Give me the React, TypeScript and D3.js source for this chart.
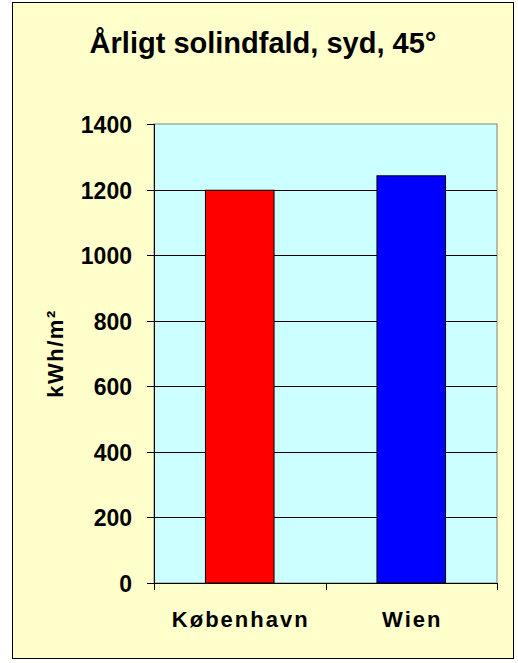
import React from "react";
import * as d3 from "d3";

const categories = ["København", "Wien"];
const values = [1198, 1242];
const barColors = ["#FF0000", "#0000FF"];
const yTicks = [0, 200, 400, 600, 800, 1000, 1200, 1400];
const title = "Årligt solindfald, syd, 45°";
const yLabel = "kWh/m²";

export default function App() {
  const W = 518, H = 663;
  const left = 154, right = 497, top = 124, bottom = 583;
  const x = d3.scaleBand<string>().domain(categories).range([left, right]).paddingInner(0.6).paddingOuter(0.3);
  const y = d3.scaleLinear().domain([0, 1400]).range([bottom, top]);
  const band = d3.scaleBand<string>().domain(categories).range([left, right]);
  const font = "'Liberation Sans', Arial, sans-serif";
  return (
    <svg width={W} height={H} style={{ position: "absolute", left: 0, top: 0 }}>
      <rect x={12.5} y={2.5} width={501} height={656} fill="#FFFFCC" stroke="#000" strokeWidth={1} />
      <text x={263} y={53} textAnchor="middle" fontFamily={font} fontWeight="bold" fontSize={29}>{title}</text>
      <rect x={left} y={top} width={right - left} height={bottom - top} fill="#CCFFFF" stroke="#808080" strokeWidth={1} />
      {yTicks.map((t) => (
        <g key={t}>
          {t > 0 && t < 1400 && <line x1={left} x2={right} y1={Math.round(y(t)) + 0.5} y2={Math.round(y(t)) + 0.5} stroke="#000" />}
          <line x1={147} x2={left} y1={Math.round(y(t)) + 0.5} y2={Math.round(y(t)) + 0.5} stroke="#000" />
          <text x={132} y={y(t) + 9} textAnchor="end" fontFamily={font} fontWeight="bold" fontSize={23}>{t}</text>
        </g>
      ))}
      {categories.map((c, i) => (
        <rect key={c} x={x(c)} y={y(values[i])} width={x.bandwidth()} height={bottom - y(values[i])} fill={barColors[i]} stroke="#000" strokeWidth={1} />
      ))}
      <line x1={left + 0.5} x2={left + 0.5} y1={top} y2={bottom + 7} stroke="#000" />
      <line x1={left} x2={right} y1={bottom + 0.5} y2={bottom + 0.5} stroke="#000" />
      {[...categories.map((c) => band(c)!), right].slice(1).map((px, i) => (
        <line key={i} x1={Math.round(px) + 0.5} x2={Math.round(px) + 0.5} y1={bottom} y2={bottom + 7} stroke="#000" />
      ))}
      {categories.map((c) => (
        <text key={c} x={x(c)! + x.bandwidth() / 2 + 1} y={627} textAnchor="middle" fontFamily={font} fontWeight="bold" fontSize={22} letterSpacing={2}>{c}</text>
      ))}
      <text transform={`translate(63,${(top + bottom) / 2}) rotate(-90)`} textAnchor="middle" fontFamily={font} fontWeight="bold" fontSize={22} letterSpacing={1.5}>{yLabel}</text>
    </svg>
  );
}
